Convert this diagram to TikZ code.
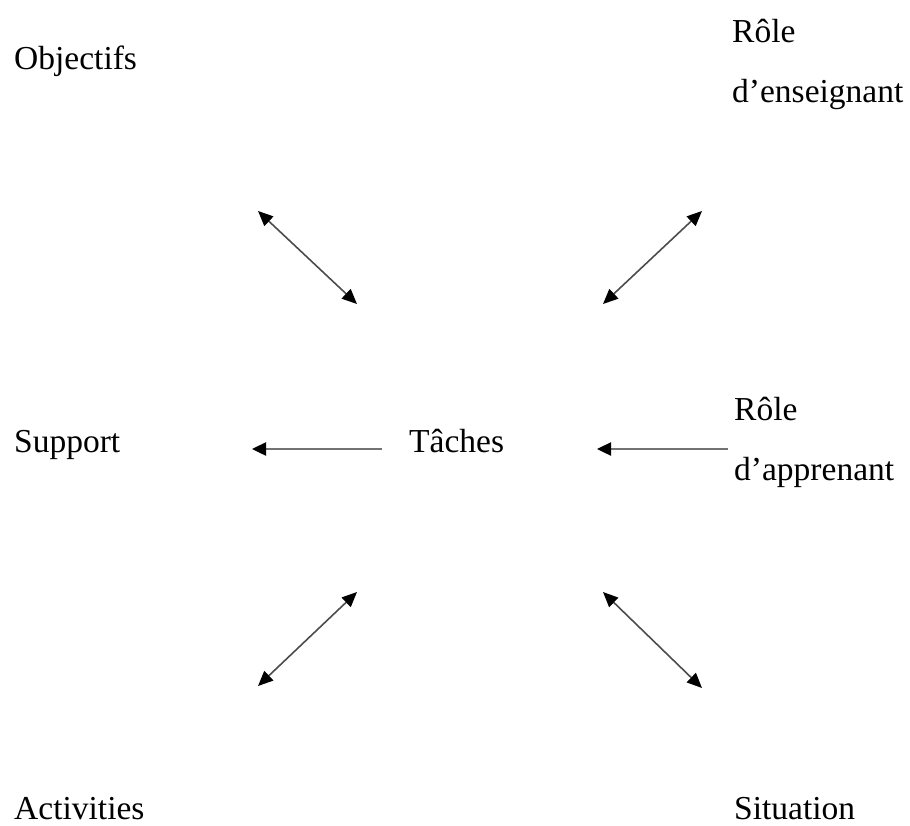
\documentclass[tikz,border=0pt]{standalone}
\usepackage{fontspec}
\setmainfont{Liberation Serif}
\usetikzlibrary{positioning,arrows.meta}

\begin{document}
\begin{tikzpicture}[x=1pt,y=-1pt,
   lbl/.style={inner sep=0pt,anchor=base west,font=\fontsize{33.5}{60}\selectfont,align=left},
   dbl/.style={{Triangle[length=15pt,width=13pt,color=black]}-{Triangle[length=15pt,width=13pt,color=black]},line width=1.6pt,draw=black!70},
   sgl/.style={-{Triangle[length=14pt,width=13pt,color=black]},line width=2.4pt,draw=black!55}]
	\useasboundingbox (0,0) rectangle (910,825);
	% labels (base = last line)
	\node[lbl] (obj) at (14,69) {Objectifs};
	\node[lbl] (ens) at (732,102) {Rôle\\d’enseignant};
	\node[lbl] (sup) at (14,452) {Support};
	\node[lbl] (tach) at (409,452) {Tâches};
	\node[lbl] (app) at (734,480) {Rôle\\d’apprenant};
	\node[lbl] (act) at (14,819) {Activities};
	\node[lbl] (sit) at (734,819) {Situation};
	% arrow ends
	\coordinate (o1) at (258,211);  \coordinate (o2) at (357,304);
	\coordinate (e1) at (702,211);  \coordinate (e2) at (603,304);
	\coordinate (s1) at (382,449);  \coordinate (s2) at (252,449);
	\coordinate (r1) at (728,449);  \coordinate (r2) at (597,449);
	\coordinate (a1) at (357,592);  \coordinate (a2) at (258,686);
	\coordinate (t1) at (603,592);  \coordinate (t2) at (702,688);
	% arrows
	\draw[dbl] (o1) -- (o2);
	\draw[dbl] (e1) -- (e2);
	\draw[sgl] (s1) -- (s2);
	\draw[sgl] (r1) -- (r2);
	\draw[dbl] (a1) -- (a2);
	\draw[dbl] (t1) -- (t2);
\end{tikzpicture}
\end{document}
